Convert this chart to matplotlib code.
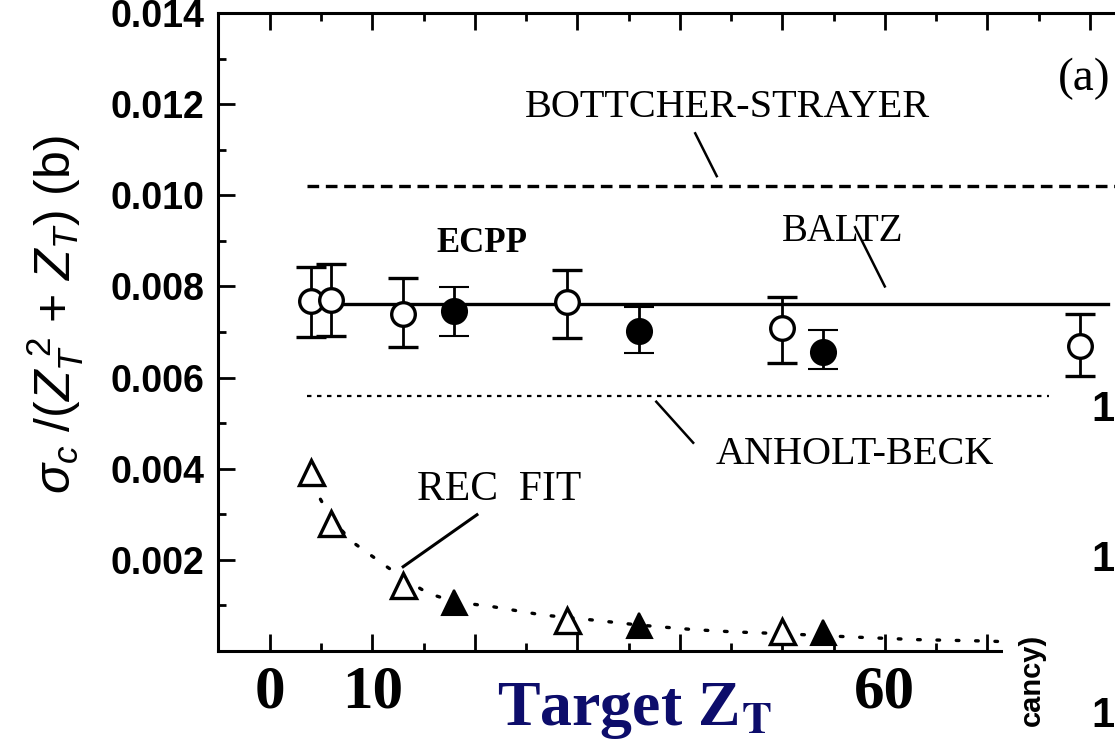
import numpy as np
import matplotlib.pyplot as plt
from matplotlib.patches import Rectangle

W, H = 1115, 739

# open circles (with error bars)
open_z = [4, 6, 13, 29, 50, 79]
open_val = [0.00767, 0.00770, 0.00740, 0.00765, 0.00708, 0.00670]
open_lo = [0.00688, 0.00692, 0.00668, 0.00686, 0.00633, 0.00604]
open_hi = [0.00842, 0.00850, 0.00818, 0.00837, 0.00776, 0.00740]

# filled circles (with error bars)
fill_z = [18, 36, 54]
fill_val = [0.00747, 0.00703, 0.00657]
fill_lo = [0.00692, 0.00655, 0.00618]
fill_hi = [0.00798, 0.00754, 0.00705]

# triangles
tri_open_z = [4, 6, 13, 29, 50]
tri_open_val = [0.00393, 0.00281, 0.00145, 0.00068, 0.00044]
tri_fill_z = [18, 36, 54]
tri_fill_val = [0.00108, 0.00057, 0.00042]

# REC FIT dotted curve
rec_z = [4.0, 4.9, 6.0, 8.0, 11.4, 13.0, 15.4, 18.0, 21.8, 26.6,
         31.5, 36.0, 41.3, 45.2, 50.0, 56.6, 63.0, 69.6, 71.0]
rec_val = [0.0037, 0.00334, 0.0029, 0.0024, 0.00185, 0.0016, 0.00127, 0.00108, 0.00097, 0.00079,
           0.00068, 0.00057, 0.00047, 0.00042, 0.00038, 0.00031, 0.00025, 0.00022, 0.00021]

# theory lines
bs_z, bs_val = [3.6, 86], [0.0102, 0.0102]
baltz_z, baltz_val = [3.6, 81.8], [0.00762, 0.00762]
ab_z, ab_val = [3.6, 76], [0.0056, 0.0056]

xticks = [0, 10, 20, 30, 40, 50, 60, 70, 80]
xticklabels = ['0', '10', '', '', '', '', '60', '', '']
yticks = [0.002, 0.004, 0.006, 0.008, 0.010, 0.012, 0.014]
yticklabels = ['0.002', '0.004', '0.006', '0.008', '0.010', '0.012', '0.014']

plt.rcParams['mathtext.fontset'] = 'custom'
plt.rcParams['mathtext.rm'] = 'Liberation Sans'
plt.rcParams['mathtext.it'] = 'Liberation Sans:italic'
plt.rcParams['mathtext.bf'] = 'Liberation Sans:bold'

fig = plt.figure(figsize=(W / 100, H / 100), dpi=100)
ax = fig.add_axes([218 / W, 1 - 651 / H, (1141 - 218) / W, (651 - 13) / H])

serif = 'Liberation Serif'

ax.plot(bs_z, bs_val, color='black', lw=2.4, ls=(0, (3.5, 2)))
ax.plot(baltz_z, baltz_val, color='black', lw=2.4)
ax.plot(ab_z, ab_val, color='black', lw=1.6, ls=(0, (2, 2.5)))
ax.plot(rec_z, rec_val, color='black', lw=2.4, ls=(0, (0.8, 5)), dash_capstyle='round')

ov = np.array(open_val)
ax.errorbar(open_z, open_val, yerr=[ov - np.array(open_lo), np.array(open_hi) - ov],
            fmt='o', ms=17, mfc='white', mec='black', mew=2.4, ecolor='black',
            elinewidth=2, capsize=11, capthick=2.5, zorder=5)
fv = np.array(fill_val)
ax.errorbar(fill_z, fill_val, yerr=[fv - np.array(fill_lo), np.array(fill_hi) - fv],
            fmt='o', ms=18, mfc='black', mec='black', mew=1.5, ecolor='black',
            elinewidth=2, capsize=11, capthick=2.5, zorder=5)
ax.plot(tri_open_z, tri_open_val, '^', ms=18, mfc='white', mec='black', mew=2.4, zorder=5)
ax.plot(tri_fill_z, tri_fill_val, '^', ms=18, mfc='black', mec='black', mew=1.5, zorder=5)

ax.set_xlim(-5.07, 85)
ax.set_ylim(0, 0.014)
ax.set_xticks(xticks)
ax.set_xticklabels(xticklabels, fontfamily=serif, fontweight='bold', fontsize=44)
ax.set_xticks(np.arange(5, 85, 10), minor=True)
ax.set_yticks(yticks)
ax.set_yticklabels(yticklabels, fontfamily='Liberation Sans', fontweight='bold', fontsize=27)
ax.set_yticks(np.arange(0.001, 0.014, 0.002), minor=True)
ax.tick_params(which='both', direction='in', top=True, right=True, width=2)
ax.tick_params(which='major', length=12)
ax.tick_params(which='minor', length=6)
ax.tick_params(axis='x', pad=10)
ax.tick_params(axis='y', pad=10)
for s in ax.spines.values():
    s.set_linewidth(2.2)

# curve labels with leader lines
ax.text(44.6, 0.01193, 'BOTTCHER-STRAYER', ha='center', va='center', fontsize=29, fontfamily=serif)
ax.plot([41.5, 43.6], [0.01136, 0.01042], color='black', lw=1.8)
ax.text(20.7, 0.00895, 'ECPP', ha='center', va='center', fontsize=25, fontfamily=serif, fontweight='bold')
ax.text(55.9, 0.00921, 'BALTZ', ha='center', va='center', fontsize=28, fontfamily=serif)
ax.plot([57.1, 60.0], [0.0093, 0.0080], color='black', lw=1.8)
ax.text(57.1, 0.00431, 'ANHOLT-BECK', ha='center', va='center', fontsize=29, fontfamily=serif)
ax.plot([37.7, 41.3], [0.00547, 0.00457], color='black', lw=1.8)
ax.text(22.4, 0.00354, 'REC  FIT', ha='center', va='center', fontsize=30, fontfamily=serif)
ax.plot([20.2, 13.0], [0.00299, 0.00185], color='black', lw=2.2)
ax.text(79.5, 0.01255, '(a)', ha='center', va='center', fontsize=34, fontfamily=serif)

# axis titles
fig.text(55 / W, 1 - 315 / H, r'$\sigma_c$ /($Z_T^{\ 2}$ + $Z_T$) (b)', rotation=90,
         ha='center', va='center', fontsize=36, fontfamily='Liberation Sans')
fig.text(497 / W, 1 - 725 / H, r'Target Z$_\mathbf{T}$', ha='left', va='baseline',
         fontsize=46, fontfamily=serif, fontweight='bold', color='#0d0d6b', math_fontfamily='stix')

# neighbouring panel fragment at the right edge
fig.add_artist(Rectangle((1003 / W, 0), (W - 1003) / W, (739 - 595) / H,
                         transform=fig.transFigure, facecolor='white', edgecolor='none', zorder=10))
fig.text(1032 / W, 1 - 634 / H, 'cancy)', rotation=90, ha='center', va='top',
         fontsize=21, fontfamily='Liberation Sans', fontweight='bold', zorder=11)
for yy in [410, 560, 716]:
    fig.text(1091 / W, 1 - yy / H, '1', ha='left', va='center', fontsize=30,
             fontfamily='Liberation Sans', fontweight='bold', zorder=11)

fig.savefig('out.png', dpi=100)
